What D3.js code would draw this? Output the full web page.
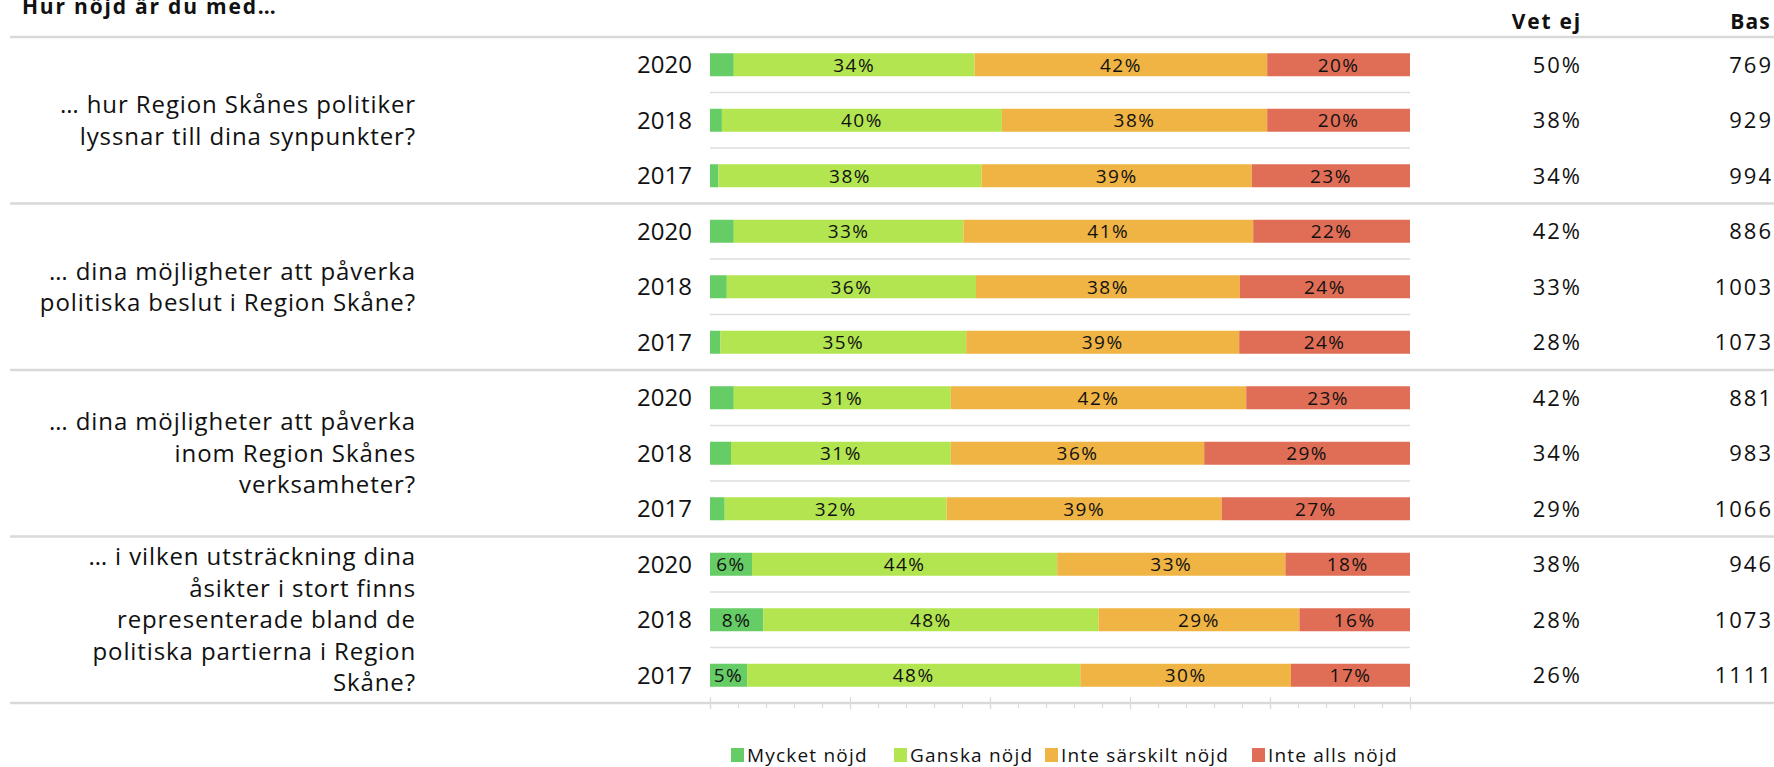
<!DOCTYPE html>
<html>
<head>
<meta charset="utf-8">
<script src="https://cdn.jsdelivr.net/npm/d3@7"></script>
<style>
  body { margin: 0; background: #fff; }
  svg text { font-family: "Open Sans", sans-serif; fill: #111; }
</style>
</head>
<body>
<div id="chart"></div>
<script>
// data
var questions = [
    ["… hur Region Skånes politiker", "lyssnar till dina synpunkter?"],
    ["… dina möjligheter att påverka", "politiska beslut i Region Skåne?"],
    ["… dina möjligheter att påverka", "inom Region Skånes", "verksamheter?"],
    ["… i vilken utsträckning dina", "åsikter i stort finns", "representerade bland de", "politiska partierna i Region", "Skåne?"]
];
var years = ["2020", "2018", "2017"];
var categories = ["Mycket nöjd", "Ganska nöjd", "Inte särskilt nöjd", "Inte alls nöjd"];
var colors = ["#66cc66", "#b3e550", "#f0b444", "#e06e56"];

// one value per row: q1 2020, 2018, 2017, q2 2020 ...
var mycketNojd    = [3.4, 1.7, 1.2,  3.4, 2.4, 1.5,  3.4, 3.0, 2.1,  6.0, 7.6, 5.3];
var ganskaNojd    = [34.4, 40.0, 37.6,  32.8, 35.6, 35.1,  31.0, 31.4, 31.7,  43.6, 47.9, 47.6];
var inteSarskilt  = [41.8, 37.9, 38.6,  41.4, 37.7, 39.0,  42.2, 36.2, 39.3,  32.6, 28.7, 30.1];
var inteAlls      = [20.4, 20.4, 22.6,  22.4, 24.3, 24.4,  23.4, 29.4, 26.9,  17.8, 15.8, 17.0];
var vetEj = [50, 38, 34,  42, 33, 28,  42, 34, 29,  38, 28, 26];
var bas   = [769, 929, 994,  886, 1003, 1073,  881, 983, 1066,  946, 1073, 1111];

function draw() {
    var w = 1774, h = 767;
    var svg = d3.select("#chart").append("svg")
        .attr("width", w)
        .attr("height", h);

    var rows = d3.range(12).map(function(i) {
        return {
            i: i, q: Math.floor(i / 3), year: years[i % 3],
            "Mycket nöjd": mycketNojd[i],
            "Ganska nöjd": ganskaNojd[i],
            "Inte särskilt nöjd": inteSarskilt[i],
            "Inte alls nöjd": inteAlls[i]
        };
    });

    var x = d3.scaleLinear().domain([0, 100]).range([710, 1410]);
    var y = d3.scaleBand().domain(d3.range(12)).range([37, 703]);
    var color = d3.scaleOrdinal().domain(categories).range(colors);
    var barH = 23;

    // title + column headers
    svg.append("text").attr("x", 22).attr("y", 14)
        .style("font-weight", "bold").style("font-size", "21px").style("letter-spacing", "1.8px")
        .text("Hur nöjd är du med…");
    svg.append("text").attr("x", 1582).attr("y", 29).attr("text-anchor", "end")
        .style("font-weight", "bold").style("font-size", "21px").style("letter-spacing", "1.8px")
        .text("Vet ej");
    svg.append("text").attr("x", 1771).attr("y", 29).attr("text-anchor", "end")
        .style("font-weight", "bold").style("font-size", "21px").style("letter-spacing", "1.2px")
        .text("Bas");

    // thin lines between years
    svg.selectAll("line.inner")
        .data(rows.filter(function(d) { return d.i % 3 != 0; }))
        .enter().append("line")
        .attr("class", "inner")
        .attr("x1", x(0)).attr("x2", x(100))
        .attr("y1", function(d) { return y(d.i); })
        .attr("y2", function(d) { return y(d.i); })
        .attr("stroke", "#dedede").attr("stroke-width", 1.5);

    // group separators
    svg.selectAll("line.sep")
        .data([0, 3, 6, 9, 12])
        .enter().append("line")
        .attr("class", "sep")
        .attr("x1", 10).attr("x2", w)
        .attr("y1", function(d) { return d < 12 ? y(d) : y.range()[1]; })
        .attr("y2", function(d) { return d < 12 ? y(d) : y.range()[1]; })
        .attr("stroke", "#d9d9d9").attr("stroke-width", 2.5);

    // axis ticks at the bottom
    var minor = d3.axisBottom(x).tickValues(d3.range(0, 101, 4)).tickSize(5).tickFormat("");
    var major = d3.axisBottom(x).tickValues(d3.range(0, 101, 20)).tickSize(12).tickFormat("");
    var gMinor = svg.append("g").attr("transform", "translate(0," + 703 + ")").call(minor);
    var gMajor = svg.append("g").attr("transform", "translate(0," + 697 + ")").call(major);
    [gMinor, gMajor].forEach(function(g) {
        g.select(".domain").remove();
        g.selectAll(".tick line").attr("stroke", "#d9d9d9").attr("stroke-width", 1.2);
    });

    // stacked bars
    var stack = d3.stack().keys(categories);
    var series = stack(rows);

    var layers = svg.selectAll("g.layer")
        .data(series)
        .enter().append("g")
        .attr("class", "layer")
        .attr("fill", function(d) { return color(d.key); });

    layers.selectAll("rect")
        .data(function(d) { return d; })
        .enter().append("rect")
        .attr("x", function(d) { return x(d[0]); })
        .attr("width", function(d) { return x(d[1]) - x(d[0]); })
        .attr("y", function(d) { return y(d.data.i) + (y.bandwidth() - barH) / 2; })
        .attr("height", barH);

    layers.selectAll("text")
        .data(function(d) { return d.filter(function(s) { return s[1] - s[0] >= 5; }); })
        .enter().append("text")
        .attr("x", function(d) { return (x(d[0]) + x(d[1])) / 2; })
        .attr("y", function(d) { return y(d.data.i) + y.bandwidth() / 2; })
        .attr("dy", "0.36em")
        .attr("text-anchor", "middle")
        .style("font-size", "19px").style("letter-spacing", "1.5px")
        .text(function(d) { return Math.round(d[1] - d[0]) + "%"; });

    // year labels
    svg.selectAll("text.year")
        .data(rows)
        .enter().append("text")
        .attr("class", "year")
        .attr("x", 692)
        .attr("y", function(d) { return y(d.i) + y.bandwidth() / 2; })
        .attr("dy", "0.36em")
        .attr("text-anchor", "end")
        .style("font-size", "24px")
        .text(function(d) { return d.year; });

    // vet ej + bas
    svg.selectAll("text.vetej")
        .data(rows)
        .enter().append("text")
        .attr("class", "vetej")
        .attr("x", 1582)
        .attr("y", function(d) { return y(d.i) + y.bandwidth() / 2; })
        .attr("dy", "0.36em")
        .attr("text-anchor", "end")
        .style("font-size", "22px").style("letter-spacing", "2px")
        .text(function(d) { return vetEj[d.i] + "%"; });

    svg.selectAll("text.bas")
        .data(rows)
        .enter().append("text")
        .attr("class", "bas")
        .attr("x", 1773)
        .attr("y", function(d) { return y(d.i) + y.bandwidth() / 2; })
        .attr("dy", "0.36em")
        .attr("text-anchor", "end")
        .style("font-size", "22px").style("letter-spacing", "2px")
        .text(function(d) { return bas[d.i]; });

    // question labels, centred on their group
    var lineH = 31.5;
    var qText = svg.selectAll("text.question")
        .data(questions)
        .enter().append("text")
        .attr("class", "question")
        .attr("text-anchor", "end")
        .style("font-size", "24px").style("letter-spacing", "0.9px");
    qText.each(function(lines, qi) {
        var cy = (y(qi * 3) + y(qi * 3 + 2) + y.bandwidth()) / 2;
        var top = cy - (lines.length - 1) * lineH / 2;
        d3.select(this).selectAll("tspan")
            .data(lines)
            .enter().append("tspan")
            .attr("x", 416)
            .attr("y", function(d, k) { return top + k * lineH; })
            .attr("dy", "0.36em")
            .text(function(d) { return d; });
    });

    // legend
    var legendX = [731, 894, 1045, 1252];
    var legend = svg.selectAll("g.legend")
        .data(categories)
        .enter().append("g")
        .attr("class", "legend")
        .attr("transform", function(d, i) { return "translate(" + legendX[i] + "," + 755 + ")"; });
    legend.append("rect")
        .attr("x", 0).attr("y", -7)
        .attr("width", 13).attr("height", 14)
        .attr("fill", function(d) { return color(d); });
    legend.append("text")
        .attr("x", 16).attr("dy", "0.36em")
        .style("font-size", "19px").style("letter-spacing", "1.2px")
        .text(function(d) { return d; });
}

window.onload = draw;
</script>
</body>
</html>
